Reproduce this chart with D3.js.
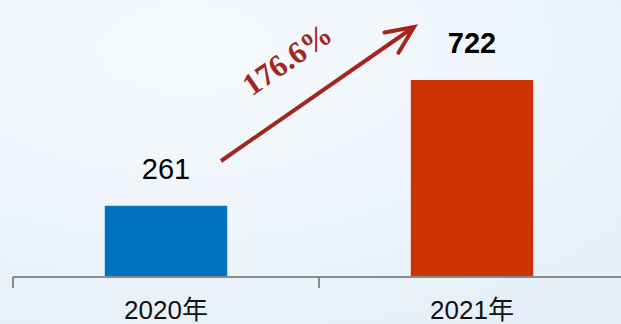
<!DOCTYPE html>
<html>
<head>
<meta charset="utf-8">
<script src="https://cdn.jsdelivr.net/npm/d3@7/dist/d3.min.js"></script>
<style>
  html, body { margin: 0; padding: 0; background: #eef5fb; }
  svg { display: block; }
</style>
</head>
<body>
<svg id="chart" width="621" height="324"></svg>
<script>
const categories = ["2020年", "2021年"];
const values = [261, 722];
const barColors = ["#0070C0", "#CC3300"];
const growthLabel = "176.6%";

const W = 621, H = 324;
const svg = d3.select("#chart");

// background
const defs = svg.append("defs");
const bg = defs.append("radialGradient").attr("id", "bg")
  .attr("cx", "30%").attr("cy", "15%").attr("r", "90%");
bg.append("stop").attr("offset", "0%").attr("stop-color", "#f7fafd");
bg.append("stop").attr("offset", "60%").attr("stop-color", "#eef5fb");
bg.append("stop").attr("offset", "100%").attr("stop-color", "#e6f0f8");
svg.append("rect").attr("width", W).attr("height", H).attr("fill", "url(#bg)");

const x = d3.scaleBand().domain(categories).range([13, 625]).padding(0);
const y = d3.scaleLinear().domain([0, 722]).range([277, 80]);
const barW = x.bandwidth() * 0.4;

// bars
svg.selectAll("rect.bar").data(values).join("rect")
  .attr("class", "bar")
  .attr("x", (d, i) => x(categories[i]) + x.bandwidth() / 2 - barW / 2)
  .attr("y", d => y(d))
  .attr("width", barW)
  .attr("height", d => y(0) - y(d))
  .attr("fill", (d, i) => barColors[i]);

// axis
const gAxis = svg.append("g").attr("transform", `translate(0,${y(0)})`);
gAxis.append("line").attr("x1", 13).attr("x2", W).attr("y1", 0).attr("y2", 0)
  .attr("stroke", "#8a8a8a").attr("stroke-width", 2);
// boundary ticks
const bounds = [x.range()[0]].concat(categories.map(c => x(c) + x.bandwidth()));
gAxis.selectAll("line.tick").data(bounds).join("line")
  .attr("class", "tick")
  .attr("x1", d => d).attr("x2", d => d)
  .attr("y1", 0).attr("y2", 11)
  .attr("stroke", "#8a8a8a").attr("stroke-width", 2);

// category labels
svg.selectAll("text.cat").data(categories).join("text")
  .attr("class", "cat")
  .attr("x", d => x(d) + x.bandwidth() / 2)
  .attr("y", 319)
  .attr("text-anchor", "middle")
  .attr("font-family", "'Liberation Sans', Arial, 'Noto Sans CJK SC', sans-serif")
  .attr("font-size", 26)
  .attr("fill", "#111")
  .text(d => d);

// value labels
svg.selectAll("text.val").data(values).join("text")
  .attr("class", "val")
  .attr("x", (d, i) => x(categories[i]) + x.bandwidth() / 2)
  .attr("y", d => y(d) - 27)
  .attr("text-anchor", "middle")
  .attr("font-family", "'Liberation Sans', Arial, sans-serif")
  .attr("font-size", 29)
  .attr("font-weight", (d, i) => i === 1 ? "bold" : "normal")
  .attr("fill", "#000")
  .text(d => d);

// growth arrow
const arrowColor = "#A3261C";
const x0 = 221, y0 = 161, x1 = 414, y1 = 27;
svg.append("line")
  .attr("x1", x0).attr("y1", y0).attr("x2", x1 - 3).attr("y2", y1 + 2)
  .attr("stroke", arrowColor).attr("stroke-width", 4).attr("stroke-linecap", "butt");
const ang = Math.atan2(y1 - y0, x1 - x0);
const hl = 30, ha = 0.42;
const p1 = [x1 - hl * Math.cos(ang - ha), y1 - hl * Math.sin(ang - ha)];
const p2 = [x1 - hl * Math.cos(ang + ha), y1 - hl * Math.sin(ang + ha)];
svg.append("path")
  .attr("d", `M${p1[0]},${p1[1]} L${x1},${y1} L${p2[0]},${p2[1]}`)
  .attr("fill", "none").attr("stroke", arrowColor).attr("stroke-width", 4)
  .attr("stroke-linejoin", "miter").attr("stroke-linecap", "round");

svg.append("text")
  .attr("transform", `translate(287,59) rotate(${ang * 180 / Math.PI})`)
  .attr("text-anchor", "middle")
  .attr("dy", "0.35em")
  .attr("font-family", "'Liberation Serif', 'Times New Roman', serif")
  .attr("font-weight", "bold")
  .attr("font-size", 31)
  .attr("fill", arrowColor)
  .text(growthLabel);
</script>
</body>
</html>
